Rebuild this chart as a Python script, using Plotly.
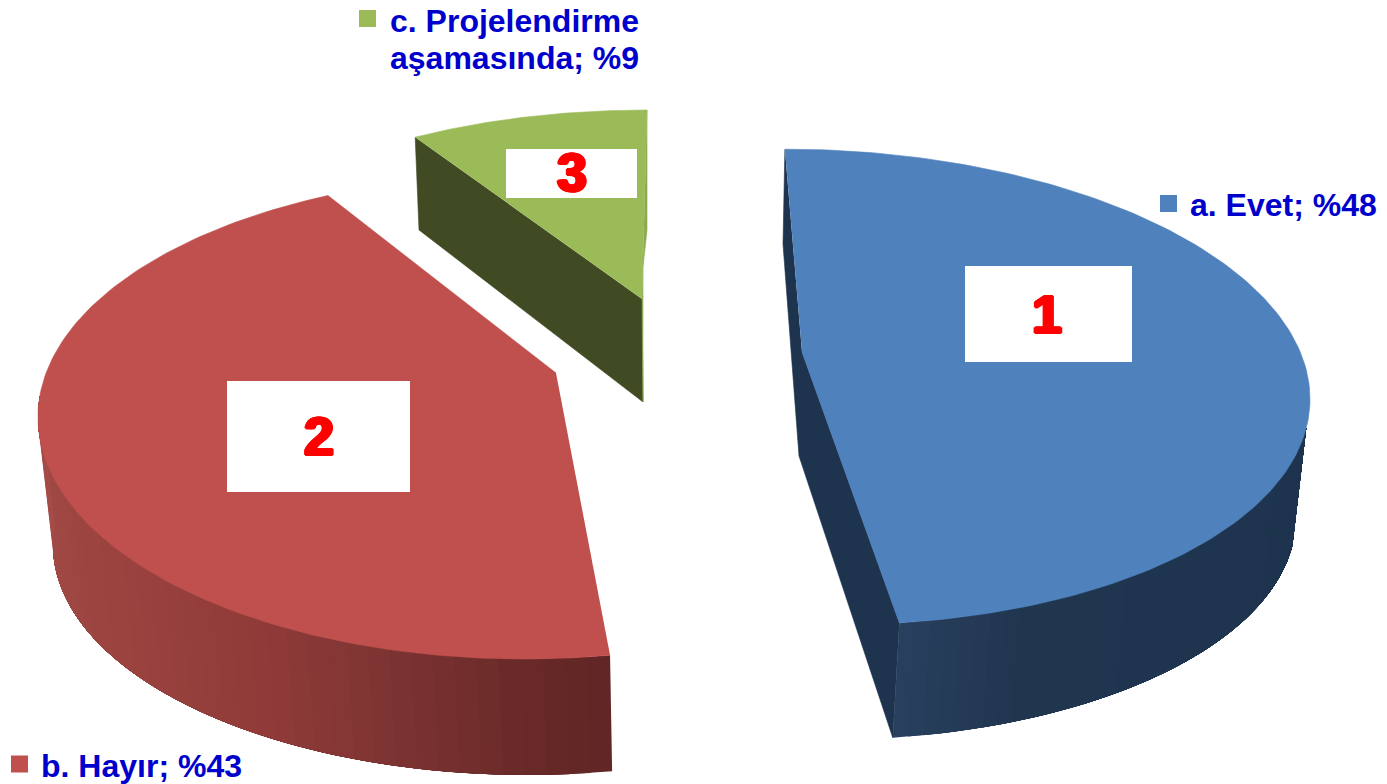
import numpy as np
import plotly.graph_objects as go

# --- chart data ---
categories = ["a. Evet", "b. Hayır", "c. Projelendirme<br>aşamasında"]
values = [48, 43, 9]
slice_numbers = ["1", "2", "3"]

# --- styling / perspective geometry (the slice sweep comes from `values`) ---
top_colors = ["#4F81BD", "#BF504D", "#9BBB59"]
START_ANGLE = -3.0
stretch = [1.0, 1.075, 0.957]          # perspective foreshortening of each sweep
top_ell = [dict(cx=811, cy=387, rx=499, ry=237.5, skew=12),
           dict(cx=524, cy=417, rx=486, ry=242, skew=0),
           dict(cx=647, cy=300, rx=450, ry=190, skew=0)]
bot_ell = [dict(cx=806, cy=510, rx=490, ry=230, skew=8),
           dict(cx=528, cy=545, rx=475, ry=230, skew=0),
           None]
apex = [(802, 352), (556, 373), (642, 299)]
bot_apex = [(799, 456), None, (643, 402)]
wall_ramp = [[(0.0, "#283F5E"), (0.2, "#20364F"), (1.0, "#1E334E")],
             [(0.0, "#612625"), (0.1, "#6A2A29"), (0.245, "#7D3432"), (0.43, "#923C3A"),
              (0.7, "#9C4540"), (1.0, "#A44C47")],
             None]
wall_end = [97, 275, None]   # angle at which the outer wall disappears
box = [(965, 266, 1132, 362), (227, 381, 410, 492), (506, 149, 637, 198)]
digit_pos = [(1047, 320), (319, 442), (572, 178)]
legend_sq = [(1168.5, 203.5), (19.5, 764), (367.5, 18.5)]
legend_txt = [(1190, 208), (41, 769), (390, 24)]
LINE_GAP = 37


def arc(e, deg):
    t = np.radians(np.asarray(deg, dtype=float))
    return e["cx"] + e["rx"] * np.sin(t), e["cy"] - e["ry"] * np.cos(t) + e["skew"] * np.sin(t)


def hex2rgb(h):
    return np.array([int(h[i:i + 2], 16) for i in (1, 3, 5)], dtype=float)


def ramp(stops, f):
    for (a, ca), (b, cb) in zip(stops, stops[1:]):
        if f <= b:
            c = hex2rgb(ca) + (hex2rgb(cb) - hex2rgb(ca)) * (f - a) / (b - a)
            return "rgb({:.0f},{:.0f},{:.0f})".format(*c)
    return stops[-1][1]


fig = go.Figure()


def poly(xs, ys, color, lw=0.6):
    fig.add_trace(go.Scatter(x=list(xs), y=list(ys), mode="lines", fill="toself",
                             fillcolor=color, line=dict(color=color, width=lw),
                             hoverinfo="skip", showlegend=False))


# slice sweeps from the values
a0 = START_ANGLE
a1 = a0 + values[0] * 3.6 * stretch[0]
a2 = a1 + values[1] * 3.6 * stretch[1]
angles = [(a0, a1), (a1, a2), (-values[2] * 3.6 * stretch[2], 0.0)]

# blue inner walls
t0, t1 = angles[0]
xa, ya = arc(top_ell[0], [t0, t1])
xb, yb = arc(bot_ell[0], [t0, t1])
poly([xa[0], 783, bot_apex[0][0], xb[1], xa[1], apex[0][0]],
     [ya[0], 244, bot_apex[0][1], yb[1], ya[1], apex[0][1]], "#1E334E")

# outer walls: painter's bands, each reaching to the end of the wall
wall_from = [angles[0][1], angles[1][0]]
for i in (0, 1):
    steps = np.linspace(wall_from[i], wall_end[i], 41)
    for j in range(40):
        d = np.linspace(steps[j], wall_end[i], 60)
        xt, yt = arc(top_ell[i], d)
        xu, yu = arc(bot_ell[i], d)
        poly(np.r_[xt, xu[::-1]], np.r_[yt, yu[::-1]], ramp(wall_ramp[i], j / 39), 0)

# green walls
t0, t1 = angles[2]
xa, ya = arc(top_ell[2], [t0, t1])
poly([xa[0], 419, bot_apex[2][0], apex[2][0]], [ya[0], 230, bot_apex[2][1], apex[2][1]], "#404A23")
poly([xa[1], 647, 643, bot_apex[2][0], apex[2][0]], [ya[1], 230, 267, bot_apex[2][1], apex[2][1]], "#8CA851")

# top surfaces
for i in range(3):
    x, y = arc(top_ell[i], np.linspace(angles[i][0], angles[i][1], 160))
    poly(list(x) + [apex[i][0]], list(y) + [apex[i][1]], top_colors[i])

# white number boxes and numbers
for i in range(3):
    x0, y0, x1, y1 = box[i]
    poly([x0, x1, x1, x0], [y0, y0, y1, y1], "#FFFFFF", 0)
    fig.add_trace(go.Scatter(x=[digit_pos[i][0]], y=[digit_pos[i][1]], mode="text",
                             text=[slice_numbers[i]], textposition="middle center",
                             textfont=dict(family="Liberation Sans", size=53, color="#FF0000",
                                           weight="bold",
                                           shadow="2px 0 0 #FF0000, -2px 0 0 #FF0000, 0 1px 0 #FF0000, 0 -1px 0 #FF0000, 1px 1px 0 #FF0000, -1px -1px 0 #FF0000, 1px -1px 0 #FF0000, -1px 1px 0 #FF0000"),
                             hoverinfo="skip", showlegend=False))

# data labels with colour keys
for i in range(3):
    fig.add_trace(go.Scatter(x=[legend_sq[i][0]], y=[legend_sq[i][1]], mode="markers",
                             marker=dict(symbol="square", size=17, color=top_colors[i]),
                             hoverinfo="skip", showlegend=False))
    lines = f"{categories[i]}; %{values[i]}".split("<br>")
    for k, line in enumerate(lines):
        fig.add_trace(go.Scatter(x=[legend_txt[i][0]], y=[legend_txt[i][1] + k * LINE_GAP], mode="text",
                                 text=[line], textposition="middle right",
                                 textfont=dict(family="Liberation Sans", size=32, color="#0000CC", weight="bold"),
                                 hoverinfo="skip", showlegend=False))

fig.update_layout(width=1387, height=784, margin=dict(l=0, r=0, t=0, b=0),
                  paper_bgcolor="white", plot_bgcolor="white", showlegend=False,
                  xaxis=dict(range=[0, 1387], visible=False, fixedrange=True),
                  yaxis=dict(range=[784, 0], visible=False, fixedrange=True))
fig.write_html("out.html", config=dict(displayModeBar=False),
               post_script="document.body.style.margin='0';document.documentElement.style.overflow='hidden';")
